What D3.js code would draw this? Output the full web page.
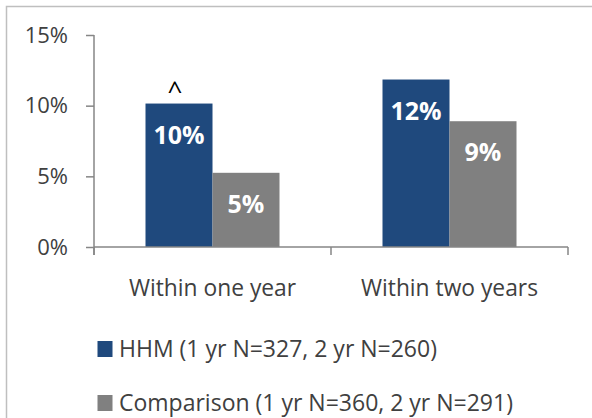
<!DOCTYPE html>
<html><head><meta charset="utf-8">
<script src="https://cdn.jsdelivr.net/npm/d3@7"></script>
<style>body{margin:0;background:#fff;} svg{display:block;}</style>
</head><body><svg id="c" width="592" height="418"></svg>
<script>
const categories = ["Within one year", "Within two years"];
const seriesNames = ["HHM (1 yr N=327, 2 yr N=260)", "Comparison (1 yr N=360, 2 yr N=291)"];
const hhmValues = [10.15, 11.85];
const comparisonValues = [5.25, 8.9];
const barLabels = [["10%", "12%"], ["5%", "9%"]];
const yTicks = [0, 5, 10, 15];
const colors = ["#1F497D", "#808080"];
const font = "'Open Sans', 'Noto Sans', sans-serif";

const svg = d3.select("#c");
// outer border (top and left visible)
svg.append("path").attr("d","M6.5,700 L6.5,6.5 L700,6.5").attr("fill","none").attr("stroke","#BFBFBF").attr("stroke-width",1.5);

const x0 = d3.scaleBand().domain(categories).range([94, 568]).paddingInner(0).paddingOuter(0);
const series = [hhmValues, comparisonValues];
const x1 = d3.scaleBand().domain([0,1]).range([0, x0.bandwidth()]).paddingInner(0).paddingOuter(0.7687);
const y = d3.scaleLinear().domain([0, 15]).range([247, 35]);

// y axis
const gy = svg.append("g").attr("transform","translate(94,0)")
  .call(d3.axisLeft(y).tickValues(yTicks).tickFormat(d=>d+"%").tickSize(8).tickPadding(18));
gy.select(".domain").attr("stroke","#868686").attr("stroke-width",1.5).attr("d","M0,35V255");
gy.selectAll(".tick line").attr("stroke","#868686").attr("stroke-width",1.5);
gy.selectAll(".tick text").attr("fill","#404040").attr("font-family",font).attr("font-size","22px");

// bars
categories.forEach((c,i)=>{
  series.forEach((s,j)=>{
    const bx = x0(c)+x1(j), bw = x1.bandwidth();
    svg.append("rect").attr("x",bx).attr("y",y(s[i])).attr("width",bw).attr("height",y(0)-y(s[i])).attr("fill",colors[j]);
    svg.append("text").attr("x",bx+bw/2).attr("y",y(s[i])+40).attr("text-anchor","middle")
      .attr("fill","#fff").attr("font-family",font).attr("font-weight","bold").attr("font-size","25px")
      .text(barLabels[j][i]);
  });
});
// caret marker
svg.append("text").attr("x", x0(categories[0])+x1(0)+x1.bandwidth()/2-4).attr("y", y(hhmValues[0])-4)
  .attr("text-anchor","middle").attr("fill","#000").attr("font-family",font).attr("font-size","26px").text("^");

// x axis
const gx = svg.append("g").attr("transform","translate(0,247)");
gx.append("line").attr("x1",94).attr("x2",568).attr("y1",0).attr("y2",0).attr("stroke","#868686").attr("stroke-width",1.5);
[94, x0(categories[1]), 568].forEach(t=>{
  gx.append("line").attr("x1",t).attr("x2",t).attr("y1",0).attr("y2",8).attr("stroke","#868686").attr("stroke-width",1.5);
});
categories.forEach(c=>{
  gx.append("text").attr("x",x0(c)+x0.bandwidth()/2).attr("y",49).attr("text-anchor","middle")
    .attr("fill","#404040").attr("font-family",font).attr("font-size","22.8px").text(c);
});

// legend
seriesNames.forEach((n,j)=>{
  const ly = 341 + j*54;
  svg.append("rect").attr("x",97.5).attr("y",ly).attr("width",15).attr("height",16).attr("fill",colors[j]);
  svg.append("text").attr("x",119).attr("y",ly+16).attr("fill","#404040").attr("font-family",font).attr("font-size","23px").text(n);
});
</script></body></html>
